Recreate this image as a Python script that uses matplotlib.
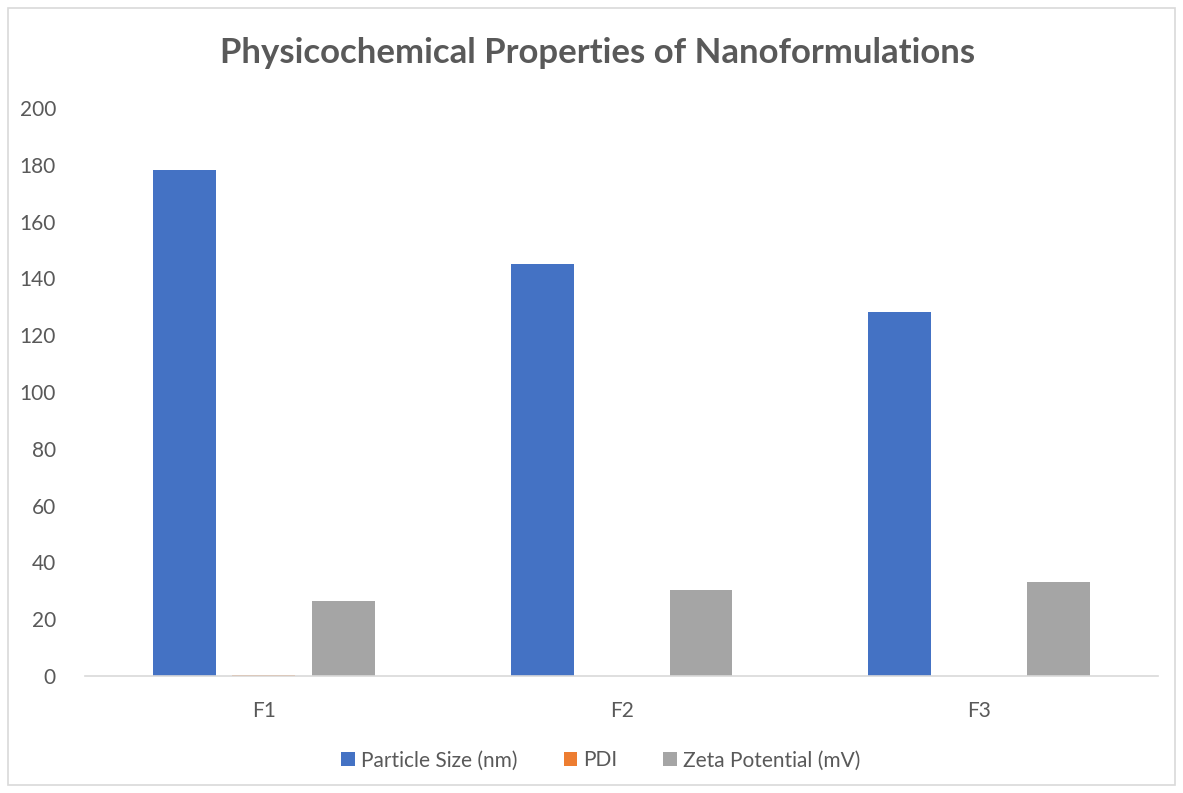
import numpy as np
import matplotlib.pyplot as plt
from matplotlib.patches import Rectangle

categories = ["F1", "F2", "F3"]
particle_size = [178, 145, 128]
pdi = [0.21, 0.18, 0.15]
zeta_potential = [26.5, 30.2, 33.1]

series = [
    ("Particle Size (nm)", particle_size, "#4472c4"),
    ("PDI", pdi, "#ed7d31"),
    ("Zeta Potential (mV)", zeta_potential, "#a5a5a5"),
]

plt.rcParams["font.family"] = ["Lato", "DejaVu Sans"]
txt = "#595959"

fig = plt.figure(figsize=(11.83, 7.93), dpi=100)
ax = fig.add_axes([0.0719, 0.1475, 0.9071, 0.7163])

x = np.arange(len(categories))
offset = 0.222
width = 0.176
for i, (name, vals, col) in enumerate(series):
    ax.bar(x + (i - 1) * offset, vals, width, color=col, label=name)

ax.set_xlim(-0.5, 2.5)
ax.set_ylim(0, 200)
ax.set_yticks(range(0, 201, 20))
ax.set_xticks(x, categories)
ax.tick_params(axis="both", length=0, labelsize=15, colors=txt)
ax.tick_params(axis="x", pad=18)
ax.tick_params(axis="y", pad=21)
for s in ["top", "right", "left"]:
    ax.spines[s].set_visible(False)
ax.spines["bottom"].set_color("#d9d9d9")
ax.spines["bottom"].set_linewidth(1.2)

fig.text(0.505, 0.933, "Physicochemical Properties of Nanoformulations",
         ha="center", va="center", fontsize=25, fontweight="bold", color=txt)

leg = fig.legend(loc="center", bbox_to_anchor=(0.508, 0.041), ncol=3, frameon=False,
                 fontsize=15, handlelength=0.65, handleheight=0.65, handletextpad=0.3,
                 columnspacing=2.2)
for t in leg.get_texts():
    t.set_color(txt)

fig.patches.append(Rectangle((0.007, 0.01), 0.986, 0.98, transform=fig.transFigure,
                             fill=False, edgecolor="#d9d9d9", linewidth=1.2))

fig.savefig("out.png", dpi=100)
